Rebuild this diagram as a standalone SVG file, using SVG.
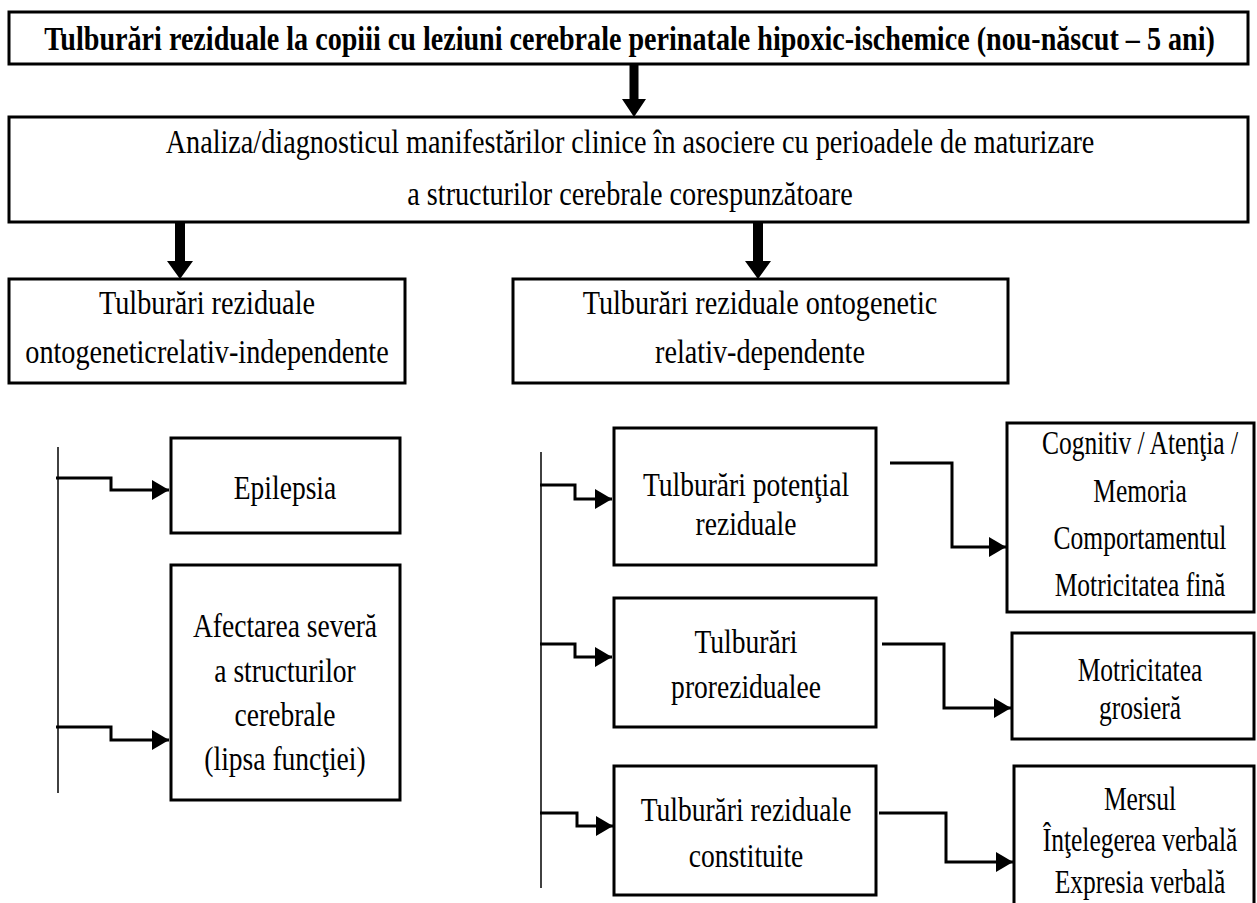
<svg xmlns="http://www.w3.org/2000/svg" width="1257" height="903" viewBox="0 0 1257 903">
<style>
.box{fill:#fff;stroke:#000;stroke-width:3}
.t{font-family:"Liberation Serif","Times New Roman",serif;font-size:34px;fill:#000;text-anchor:middle}
.tb{font-family:"Liberation Serif","Times New Roman",serif;font-size:34px;font-weight:bold;fill:#000;text-anchor:middle}
.t2{font-family:"Liberation Serif","Times New Roman",serif;font-size:33px;fill:#000;text-anchor:middle}
.con{fill:none;stroke:#000;stroke-width:3}
.vl{fill:none;stroke:#111;stroke-width:1.6}
.thick{fill:#000}
</style>
<defs>
<marker id="ah" markerUnits="userSpaceOnUse" markerWidth="18" markerHeight="20" refX="17" refY="10" orient="auto">
<path d="M0,0 L17,10 L0,20 Z" fill="#000"/>
</marker>
</defs>

<g id="connectors">
<path class="thick" d="M629.5,64 H638.5 V99 H646 L634,117 L622,99 H629.5 Z"/>
<path class="thick" d="M175,222 H185 V261 H193 L180,279 L167,261 H175 Z"/>
<path class="thick" d="M753,222 H763 V261 H771 L758,279 L745,261 H753 Z"/>
<line class="vl" x1="58" y1="447" x2="58" y2="793"/>
<line class="vl" x1="541" y1="452" x2="541" y2="888"/>
<path class="con" d="M56,478 H111 V490 H169" marker-end="url(#ah)"/>
<path class="con" d="M56,727 H111 V740 H169" marker-end="url(#ah)"/>
<path class="con" d="M540,485 H575 V499 H612" marker-end="url(#ah)"/>
<path class="con" d="M540,644 H575 V657 H612" marker-end="url(#ah)"/>
<path class="con" d="M540,813 H577 V826 H613" marker-end="url(#ah)"/>
<path class="con" d="M890,463 H952 V547 H1006" marker-end="url(#ah)"/>
<path class="con" d="M882,644 H944 V708 H1011" marker-end="url(#ah)"/>
<path class="con" d="M879,813 H946 V862 H1013" marker-end="url(#ah)"/>
</g>

<g id="n-title">
<rect class="box" x="9" y="12" width="1239" height="52"/>
<text class="tb" transform="matrix(0.827 0 0 1 629.5 0)" x="0" y="50">Tulburări reziduale la copiii cu leziuni cerebrale perinatale hipoxic-ischemice (nou-născut – 5 ani)</text>
</g>

<g id="n-analiza">
<rect class="box" x="9" y="117" width="1239" height="105"/>
<text class="t2" transform="matrix(0.855 0 0 1 630 0)"><tspan x="0" y="153">Analiza/diagnosticul manifestărilor clinice în asociere cu perioadele de maturizare</tspan><tspan x="0" y="205">a structurilor cerebrale corespunzătoare</tspan></text>
</g>

<g id="n-independente">
<rect class="box" x="9" y="279" width="396" height="104"/>
<text class="t" transform="matrix(0.83 0 0 1 207 0)"><tspan x="0" y="314">Tulburări reziduale</tspan><tspan x="0" y="363">ontogeneticrelativ-independente</tspan></text>
</g>

<g id="n-dependente">
<rect class="box" x="513" y="279" width="495" height="104"/>
<text class="t" transform="matrix(0.83 0 0 1 760 0)"><tspan x="0" y="314">Tulburări reziduale ontogenetic</tspan><tspan x="0" y="363">relativ-dependente</tspan></text>
</g>

<g id="n-epilepsia">
<rect class="box" x="171" y="438" width="229" height="95"/>
<text class="t" transform="matrix(0.81 0 0 1 285 0)"><tspan x="0" y="499">Epilepsia</tspan></text>
</g>

<g id="n-afectarea">
<rect class="box" x="171" y="565" width="229" height="235"/>
<text class="t" transform="matrix(0.81 0 0 1 285 0)"><tspan x="0" y="637">Afectarea severă</tspan><tspan x="0" y="682">a structurilor</tspan><tspan x="0" y="726">cerebrale</tspan><tspan x="0" y="770">(lipsa funcţiei)</tspan></text>
</g>

<g id="n-potential">
<rect class="box" x="614" y="428" width="262" height="137"/>
<text class="t" transform="matrix(0.81 0 0 1 746 0)"><tspan x="0" y="496">Tulburări potenţial</tspan><tspan x="0" y="535">reziduale</tspan></text>
</g>

<g id="n-prorezidualee">
<rect class="box" x="614" y="598" width="262" height="129"/>
<text class="t" transform="matrix(0.81 0 0 1 746 0)"><tspan x="0" y="653">Tulburări</tspan><tspan x="0" y="698">prorezidualee</tspan></text>
</g>

<g id="n-constituite">
<rect class="box" x="614" y="766" width="262" height="129"/>
<text class="t" transform="matrix(0.81 0 0 1 746 0)"><tspan x="0" y="821">Tulburări reziduale</tspan><tspan x="0" y="867">constituite</tspan></text>
</g>

<g id="n-cognitiv">
<rect class="box" x="1007" y="423" width="247" height="189"/>
<text class="t" transform="matrix(0.75 0 0 1 1140 0)"><tspan x="0" y="454">Cognitiv / Atenţia /</tspan><tspan x="0" y="502">Memoria</tspan><tspan x="0" y="549">Comportamentul</tspan><tspan x="0" y="596">Motricitatea fină</tspan></text>
</g>

<g id="n-grosiera">
<rect class="box" x="1012" y="633" width="242" height="106"/>
<text class="t" transform="matrix(0.75 0 0 1 1140 0)"><tspan x="0" y="681">Motricitatea</tspan><tspan x="0" y="719">grosieră</tspan></text>
</g>

<g id="n-mersul">
<path class="box" d="M1014,905 V766 H1254 V905"/>
<text class="t" transform="matrix(0.75 0 0 1 1140 0)"><tspan x="0" y="810">Mersul</tspan><tspan x="0" y="851">Înţelegerea verbală</tspan><tspan x="0" y="893">Expresia verbală</tspan></text>
</g>
</svg>
